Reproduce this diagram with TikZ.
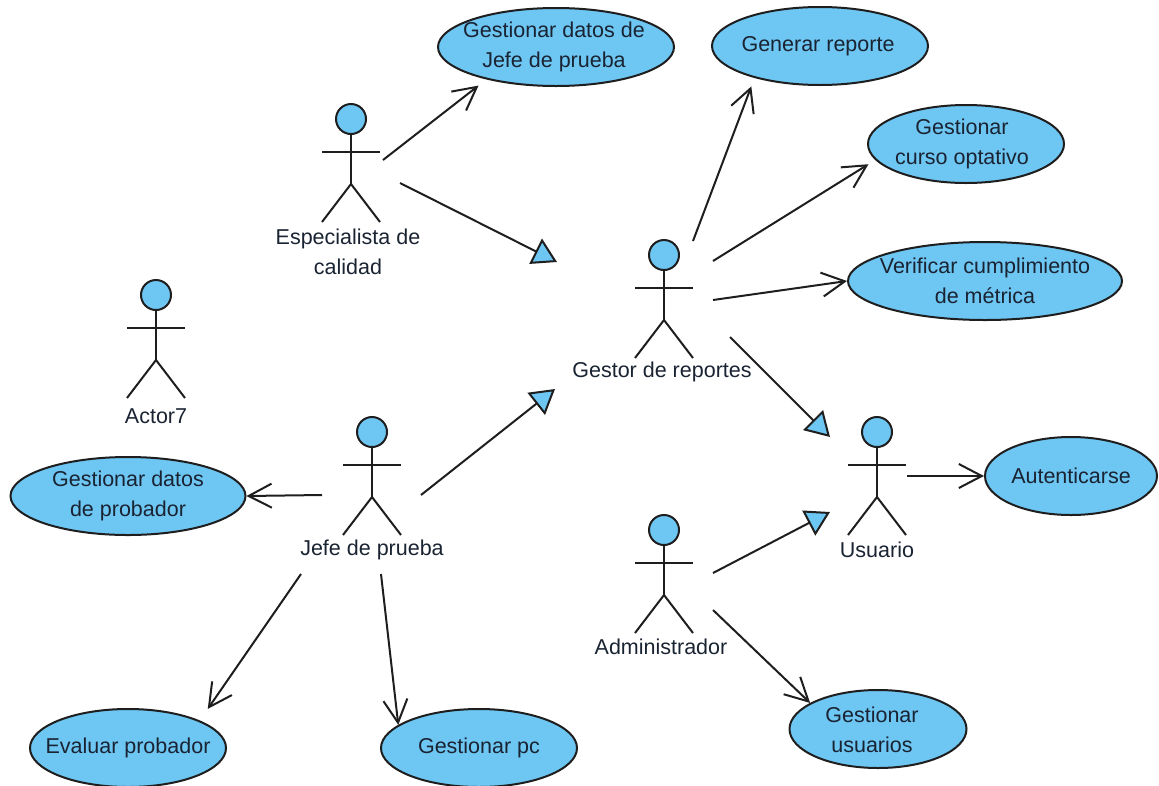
\documentclass[tikz,border=0pt]{standalone}
\usepackage{fontspec}
\setmainfont{Liberation Sans}
\usetikzlibrary{shapes.geometric}
\usetikzlibrary{arrows.meta}
\definecolor{ucblue}{RGB}{110,198,243}
\definecolor{ucline}{RGB}{30,30,30}
\definecolor{uctext}{RGB}{25,35,50}
\tikzstyle{usecase} = [ellipse, draw=ucline, fill=ucblue, line width=2pt, inner sep=0pt, minimum height=78pt]
\tikzstyle{ucname} = [align=center, inner sep=0pt, text=uctext, font=\fontsize{21.5}{30}\selectfont]
\tikzstyle{actorname} = [align=center, inner sep=0pt, text=uctext, font=\fontsize{21.5}{30}\selectfont]
\tikzstyle{head} = [circle, draw=ucline, fill=ucblue, line width=2pt, inner sep=0pt, minimum size=30pt]
\tikzstyle{limb} = [draw=ucline, line width=2pt]
\tikzstyle{uses} = [draw=ucline, line width=2pt, -{Straight Barb[length=23pt,width=24pt,line width=2pt]}]
\tikzstyle{extends} = [draw=ucline, line width=2pt, -{Triangle[length=24pt,width=28pt,fill=ucblue,line width=2pt]}]

\begin{document}
\begin{tikzpicture}[x=1pt,y=-1pt]
	\useasboundingbox (0,0) rectangle (1159,785);
	% actors
	\foreach \name/\x/\y in {especialista/351/119, actorsiete/156/295, gestor/664/255, jefe/372/432, usuario/877/432, administrador/664/530} {
		\node [head] (\name) at (\x,\y) {};
		\draw [limb] (\name.south) -- (\x,\y+65);
		\draw [limb] (\x-29,\y+33) -- (\x+29,\y+33);
		\draw [limb] (\x-29,\y+103) -- (\x,\y+65) -- (\x+29,\y+103);
	}
	\node [actorname] (especialistaname) at (348,252) {Especialista de\\calidad};
	\node [actorname] (actorsietename) at (156,416) {Actor7};
	\node [actorname] (gestorname) at (662,372) {Gestor de reportes};
	\node [actorname] (jefename) at (372,550) {Jefe de prueba};
	\node [actorname] (usuarioname) at (877,550) {Usuario};
	\node [actorname] (administradorname) at (661,647) {Administrador};

	% use cases
	\node [usecase, minimum width=236pt, label={[ucname,xshift=-2pt]center:Gestionar datos de\\Jefe de prueba}] (datosjefe) at (556,47) {};
	\node [usecase, minimum width=216pt, label={[ucname,xshift=-2pt]center:Generar reporte}] (reporte) at (820,46) {};
	\node [usecase, minimum width=196pt, label={[ucname,xshift=-4pt]center:Gestionar\\curso optativo}] (curso) at (966,144) {};
	\node [usecase, minimum width=274pt, label={[ucname]center:Verificar cumplimiento\\de métrica}] (metrica) at (985,281) {};
	\node [usecase, minimum width=172pt, label={[ucname]center:Autenticarse}] (autenticarse) at (1071,476) {};
	\node [usecase, minimum width=235pt, label={[ucname]center:Gestionar datos\\de probador}] (datosprobador) at (128,496) {};
	\node [usecase, minimum width=196pt, label={[ucname]center:Evaluar probador}] (evaluar) at (128,748) {};
	\node [usecase, minimum width=196pt, label={[ucname]center:Gestionar pc}] (pc) at (479,748) {};
	\node [usecase, minimum width=177pt, label={[ucname,xshift=-6pt,yshift=-1pt]center:Gestionar\\usuarios}] (usuarios) at (878,729) {};

	% free ends
	\coordinate (espa) at (383,160);
	\coordinate (espb) at (400,183);
	\coordinate (tipgestora) at (557,262);
	\coordinate (tipgestorb) at (555,389);
	\coordinate (gesa) at (693,241);
	\coordinate (gesb) at (713,261);
	\coordinate (gesc) at (713,300);
	\coordinate (gesd) at (730,337);
	\coordinate (tipusuarioa) at (830,437);
	\coordinate (tipusuariob) at (830,512);
	\coordinate (usua) at (907,476);
	\coordinate (jefa) at (322,495);
	\coordinate (jefb) at (301,574);
	\coordinate (jefc) at (381,574);
	\coordinate (jefd) at (421,495);
	\coordinate (adma) at (713,573);
	\coordinate (admb) at (713,610);

	% connectors
	\draw [uses, shorten >=10pt] (espa) -- (datosjefe.205);
	\draw [extends] (espb) -- (tipgestora);
	\draw [extends] (jefd) -- (tipgestorb);
	\draw [uses, shorten >=9pt] (gesa) -- (reporte.206);
	\draw [uses, shorten >=8pt] (gesb) -- (curso.190);
	\draw [uses] (gesc) -- (metrica.west);
	\draw [extends] (gesd) -- (tipusuarioa);
	\draw [extends] (adma) -- (tipusuariob);
	\draw [uses] (usua) -- (autenticarse.west);
	\draw [uses] (jefa) -- (datosprobador.east);
	\draw [uses, shorten >=14pt] (jefb) -- (evaluar.21);
	\draw [uses] (jefc) -- (pc.164);
	\draw [uses] (admb) -- (usuarios.159);
\end{tikzpicture}
\end{document}
